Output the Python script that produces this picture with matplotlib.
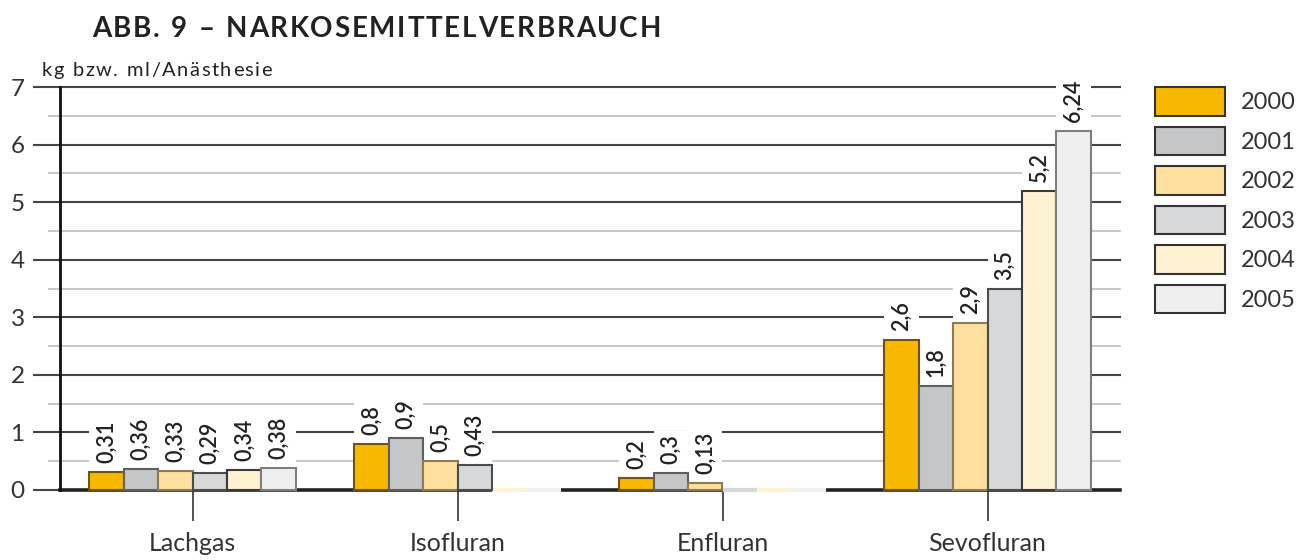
import matplotlib
matplotlib.use('Agg')
import matplotlib.pyplot as plt
import numpy as np
from matplotlib.patches import Patch, Rectangle

# ---------------- data ----------------
categories = ['Lachgas', 'Isofluran', 'Enfluran', 'Sevofluran']
years = ['2000', '2001', '2002', '2003', '2004', '2005']
v2000 = [0.31, 0.8, 0.2, 2.6]
v2001 = [0.36, 0.9, 0.3, 1.8]
v2002 = [0.33, 0.5, 0.13, 2.9]
v2003 = [0.29, 0.43, 0.0, 3.5]
v2004 = [0.34, 0.0, 0.0, 5.2]
v2005 = [0.38, 0.0, 0.0, 6.24]
yticks = [0, 1, 2, 3, 4, 5, 6, 7]
title = 'ABB. 9 \u2013 NARKOSEMITTELVERBRAUCH'
ylabel = 'kg bzw. ml/Anästhesie'

series = [v2000, v2001, v2002, v2003, v2004, v2005]
faces = ['#F8B800', '#C5C6C8', '#FDDF9E', '#D7D8DA', '#FFF2D2', '#EFEFEF']
edges = ['#6E5410', '#5E5F61', '#8E7A55', '#4A4B4D', '#3A3A3A', '#7E7E7E']

plt.rcParams['font.family'] = ['Lato', 'DejaVu Sans']

W, H = 1306, 560
fig = plt.figure(figsize=(W / 100, H / 100), dpi=100)
ax = fig.add_axes([60 / W, 1 - 490 / H, (1120 - 60) / W, (490 - 87) / H])
ax.set_xlim(-0.5, 3.5)
ax.set_ylim(0, 7)

# grid
for yv in np.arange(0.5, 7.01, 0.5):
    major = abs(yv - round(yv)) < 1e-9
    ax.axhline(yv, color='#444444' if major else '#BEBEBE',
               lw=1.5 if major else 1.2, zorder=1, clip_on=False)
ax.axhline(0, color='#222222', lw=2.6, zorder=2.4, clip_on=False)

# bars
bw = 0.13
x = np.arange(len(categories))
bar_info = []
for i, vals in enumerate(series):
    pos = x + (i - 2.5) * bw
    vals = np.array(vals)
    nz = vals > 0
    ax.bar(pos[nz], vals[nz], bw, color=faces[i], edgecolor=edges[i],
           lw=1.5, zorder=3, clip_on=False)
    if (~nz).any():
        ax.bar(pos[~nz], vals[~nz], bw, color=faces[i], edgecolor=faces[i],
               lw=3, zorder=2.5, clip_on=False)
    for p, v in zip(pos[nz], vals[nz]):
        bar_info.append((p, v))

# axes styling
for s in ['top', 'right', 'bottom']:
    ax.spines[s].set_visible(False)
ax.spines['left'].set_color('#111111')
ax.spines['left'].set_linewidth(2)
ax.spines['left'].set_zorder(4)

ax.set_yticks(yticks)
ax.set_yticklabels([str(t) for t in yticks])
ax.set_yticks(np.arange(0.5, 7, 1.0), minor=True)
ax.tick_params(axis='y', which='major', length=19.5, width=1.5, color='#444444',
               pad=6, labelsize=17.5, labelcolor='#333333')
ax.tick_params(axis='y', which='minor', length=8.6, width=1.2, color='#BEBEBE')
ax.set_xticks(x)
ax.set_xticklabels(categories)
ax.tick_params(axis='x', length=22, width=1.3, color='#444444', pad=8,
               labelsize=18, labelcolor='#333333')

# value labels with white backing
fig.canvas.draw()
r = fig.canvas.get_renderer()
off_px = 9
inv = ax.transData.inverted()
for p, v in bar_info:
    lab = f'{v:g}'.replace('.', ',')
    ybase_px = ax.transData.transform((p, v))[1] + off_px
    ybase = inv.transform((0, ybase_px))[1]
    t = ax.text(p, ybase, lab, rotation=90, ha='center', va='bottom',
                fontsize=15.5, fontweight='semibold', color='#222222', zorder=5)
    bb = t.get_window_extent(r)
    top = inv.transform((0, bb.y1 + 3))[1]
    ax.add_patch(Rectangle((p - bw / 2, v), bw, top - v, facecolor='white',
                           edgecolor='none', zorder=2.2, clip_on=False))


def tracked(s, x0, x1, ybase_px, **kw):
    widths = []
    tmp = []
    for ch in s:
        if ch == ' ':
            t = fig.text(0, 0, 'n', **kw)
            w = t.get_window_extent(r).width * 0.5
        else:
            t = fig.text(0, 0, ch, **kw)
            w = t.get_window_extent(r).width
        tmp.append(t)
        widths.append(w)
    for t in tmp:
        t.remove()
    natural = sum(widths)
    track = (x1 - x0 - natural) / (len(s) - 1)
    cur = x0
    for ch, w in zip(s, widths):
        if ch != ' ':
            fig.text(cur / W, 1 - ybase_px / H, ch, ha='left', va='baseline', **kw)
        cur += w + track


tracked(title, 92, 661, 37, fontsize=20, fontweight='bold', color='#222222')
tracked(ylabel, 42, 272, 76, fontsize=14.5, color='#222222')

# legend
fs = 17
fs_px = fs * 100 / 72
handles = [Patch(facecolor=faces[i], edgecolor='#333333', lw=1.5) for i in range(len(years))]
fig.legend(handles, years, loc='upper left', bbox_to_anchor=(1155 / W, 1 - 87 / H),
           frameon=False, borderpad=0, borderaxespad=0, fontsize=fs,
           handlelength=70 / fs_px, handleheight=35 / fs_px,
           labelspacing=(46 - 35) / fs_px, handletextpad=16 / fs_px,
           labelcolor='#333333')

fig.savefig('out.png', dpi=100)
